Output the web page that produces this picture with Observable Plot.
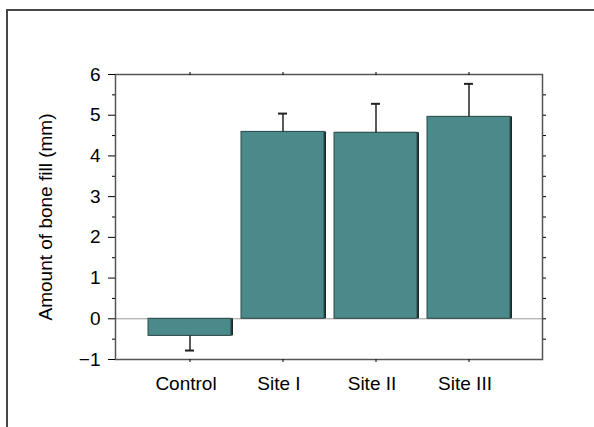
<!DOCTYPE html>
<html><head><meta charset="utf-8">
<script src="https://cdn.jsdelivr.net/npm/d3@7"></script>
<script src="https://cdn.jsdelivr.net/npm/@observablehq/plot@0.6"></script>
<style>
html,body{margin:0;padding:0;background:#fff;}
#wrap{position:relative;width:594px;height:427px;overflow:hidden;}
#border{position:absolute;left:6px;top:9px;width:700px;height:600px;border-left:2px solid #474747;border-top:2px solid #474747;}
#chart{position:absolute;left:0;top:0;}
</style></head>
<body><div id="wrap"><div id="border"></div><div id="chart"></div></div>
<script>
const categories = ["Control", "Site I", "Site II", "Site III"];
const means = [-0.42, 4.59, 4.57, 4.96];
const errorEnds = [-0.78, 5.04, 5.28, 5.77];
const yTicks = [-1, 0, 1, 2, 3, 4, 5, 6];
const yMinorTicks = [-0.5, 0.5, 1.5, 2.5, 3.5, 4.5, 5.5];
const yRightTicks = [-0.5, 0, 0.5, 1, 1.5, 2, 2.5, 3, 3.5, 4, 4.5, 5, 5.5];
const yLabel = "Amount of bone fill (mm)";

const data = categories.map((c, i) => ({category: c, mean: means[i], end: errorEnds[i]}));

const chart = Plot.plot({
  width: 594,
  height: 427,
  marginLeft: 115,
  marginRight: 52,
  marginTop: 74,
  marginBottom: 68,
  style: {fontFamily: "'Liberation Sans', Arial, sans-serif", fontSize: "19px", color: "#000", background: "transparent"},
  x: {domain: categories, paddingInner: 0.11, paddingOuter: 0.35},
  y: {domain: [-1, 6]},
  marks: [
    Plot.ruleY([0], {stroke: "#9a9a9a", strokeWidth: 1}),
    Plot.barY(data, {x: "category", y: "mean", fill: "#1c2a2a", dx: 2}),
    Plot.barY(data, {x: "category", y: "mean", fill: "#4a8a8a", stroke: "#2e4a4a", strokeWidth: 1}),
    Plot.ruleX(data, {x: "category", y1: "mean", y2: "end", stroke: "#222", strokeWidth: 1.5}),
    Plot.tickY(data, {x: "category", y: "end", stroke: "#222", strokeWidth: 2, insetLeft: 37, insetRight: 37}),
    Plot.frame({stroke: "#555", strokeWidth: 1.5}),
    Plot.axisY(yTicks, {anchor: "left", tickSize: 7, tickPadding: 8, label: yLabel, labelAnchor: "center", labelArrow: "none", labelOffset: 77}),
    Plot.axisY(yMinorTicks, {anchor: "left", tickSize: 3, tickFormat: () => "", label: null}),
    Plot.axisY(yRightTicks, {anchor: "right", tickSize: 3, tickFormat: () => "", label: null}),
    Plot.axisX({anchor: "bottom", tickSize: 3, tickFormat: () => "", label: null}),
    Plot.axisX({anchor: "bottom", tickSize: 0, tickPadding: 17, dx: -4, label: null}),
    Plot.axisX({anchor: "top", tickSize: 3, tickFormat: () => "", label: null})
  ]
});
document.getElementById("chart").appendChild(chart);
</script>
</body></html>
